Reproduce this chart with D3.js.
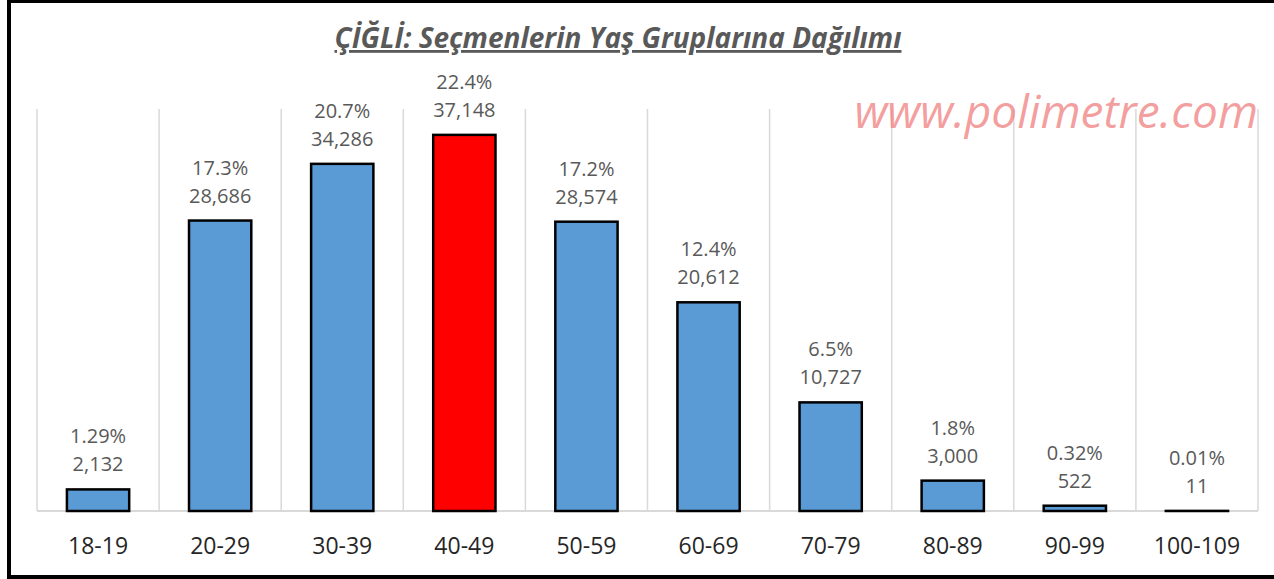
<!DOCTYPE html>
<html>
<head>
<meta charset="utf-8">
<script src="https://cdn.jsdelivr.net/npm/d3@7"></script>
<style>
  body { margin: 0; background: #fff; }
  text { font-family: "Open Sans", sans-serif; }
</style>
</head>
<body>
<div id="chart"></div>
<script>
// data
const groups = ['18-19', '20-29', '30-39', '40-49', '50-59', '60-69', '70-79', '80-89', '90-99', '100-109']
const voters = [2132, 28686, 34286, 37148, 28574, 20612, 10727, 3000, 522, 11]
const shares = ['1.29%', '17.3%', '20.7%', '22.4%', '17.2%', '12.4%', '6.5%', '1.8%', '0.32%', '0.01%']
const highlight = '40-49'

const W = 1274, H = 579
const plot = {left: 37, right: 1258, top: 106, bottom: 511}

const svg = d3.select('#chart')
  .append('svg')
  .attr('width', W)
  .attr('height', H)

// outer frame (right side runs off the picture)
svg.append('rect')
  .attr('x', 9).attr('y', 1)
  .attr('width', 1300).attr('height', 576)
  .attr('fill', 'none')
  .attr('stroke', '#000')
  .attr('stroke-width', 4)

const x = d3.scaleBand()
  .domain(groups)
  .range([plot.left, plot.right])
  .paddingInner(0.49)
  .paddingOuter(0.245)

const y = d3.scaleLinear()
  .domain([0, 40000])
  .range([plot.bottom, plot.top])

// vertical gridlines between categories
const edges = groups.map(g => x(g) - x.step() * x.paddingInner() / 2)
edges.push(plot.right)
svg.append('g')
  .selectAll('line')
  .data(edges)
  .enter()
  .append('line')
  .attr('x1', d => d).attr('x2', d => d)
  .attr('y1', y(39700)).attr('y2', plot.bottom)
  .attr('stroke', '#d9d9d9')
  .attr('stroke-width', 1.5)

// watermark
svg.append('text')
  .attr('x', 1258)
  .attr('y', 128)
  .attr('text-anchor', 'end')
  .style('font-size', '46px')
  .style('font-style', 'italic')
  .attr('fill', '#f08080')
  .attr('fill-opacity', 0.75)
  .text('www.polimetre.com')

// baseline
svg.append('line')
  .attr('x1', plot.left).attr('x2', plot.right)
  .attr('y1', plot.bottom).attr('y2', plot.bottom)
  .attr('stroke', '#d9d9d9')
  .attr('stroke-width', 2)

// bars
svg.append('g')
  .selectAll('rect')
  .data(groups)
  .enter()
  .append('rect')
  .attr('x', d => x(d))
  .attr('y', (d, i) => y(voters[i]))
  .attr('width', x.bandwidth())
  .attr('height', (d, i) => plot.bottom - y(voters[i]))
  .attr('fill', d => d === highlight ? '#ff0000' : '#5b9bd5')
  .attr('stroke', '#000')
  .attr('stroke-width', 2.5)

// data labels
const labels = svg.append('g')
  .attr('text-anchor', 'middle')
  .attr('fill', '#595959')
  .style('font-size', '20px')

labels.selectAll('.pct')
  .data(groups)
  .enter()
  .append('text')
  .attr('class', 'pct')
  .attr('x', d => x(d) + x.bandwidth() / 2)
  .attr('y', (d, i) => y(voters[i]) - 46)
  .text((d, i) => shares[i])

labels.selectAll('.val')
  .data(groups)
  .enter()
  .append('text')
  .attr('class', 'val')
  .attr('x', d => x(d) + x.bandwidth() / 2)
  .attr('y', (d, i) => y(voters[i]) - 18)
  .text((d, i) => d3.format(',')(voters[i]))

// x axis labels
const xAxis = svg.append('g')
  .attr('transform', 'translate(0,' + plot.bottom + ')')
  .call(d3.axisBottom(x).tickSize(0).tickPadding(27))
xAxis.select('.domain').remove()
xAxis.selectAll('text')
  .style('font-family', '"Open Sans", sans-serif')
  .style('font-size', '23px')
  .attr('fill', '#262626')

// title
svg.append('text')
  .attr('x', 618)
  .attr('y', 48)
  .attr('text-anchor', 'middle')
  .style('font-size', '28px')
  .style('font-style', 'italic')
  .style('font-weight', 'bold')
  .style('text-decoration', 'underline')
  .attr('fill', '#595959')
  .text('ÇİĞLİ: Seçmenlerin Yaş Gruplarına Dağılımı')
</script>
</body>
</html>
